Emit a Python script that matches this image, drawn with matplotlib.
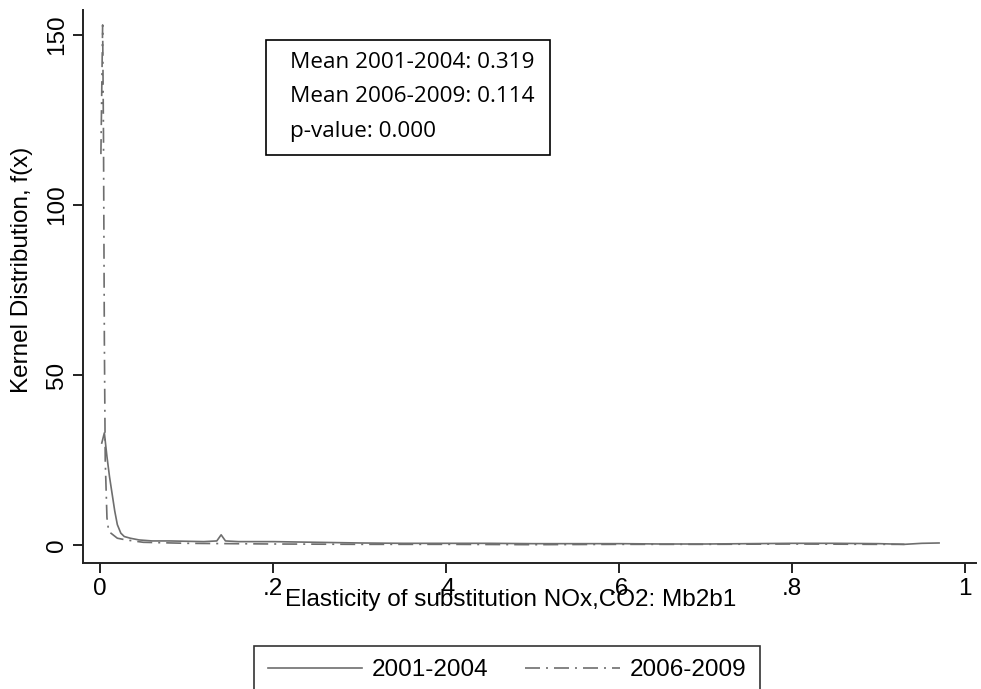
import matplotlib
matplotlib.use("Agg")
import matplotlib.pyplot as plt
from matplotlib.patches import Rectangle

# ---- data ----
x_early = [0.002, 0.005, 0.008, 0.011, 0.014, 0.017, 0.020, 0.024, 0.028, 0.035,
           0.045, 0.06, 0.08, 0.10, 0.12, 0.135, 0.14, 0.145, 0.16, 0.20, 0.25,
           0.30, 0.35, 0.40, 0.45, 0.50, 0.55, 0.60, 0.65, 0.70, 0.75, 0.80,
           0.85, 0.90, 0.93, 0.95, 0.97]
y_early = [30, 33, 26, 20, 15, 10, 6, 3.5, 2.5, 2.0,
           1.5, 1.2, 1.2, 1.1, 1.0, 1.2, 3.0, 1.2, 1.0, 1.0, 0.8,
           0.6, 0.5, 0.5, 0.5, 0.4, 0.4, 0.4, 0.3, 0.3, 0.4, 0.5,
           0.5, 0.4, 0.2, 0.5, 0.6]

x_late = [0.001, 0.003, 0.004, 0.005, 0.006, 0.008, 0.010, 0.015, 0.020, 0.030,
          0.05, 0.10, 0.20, 0.30, 0.40, 0.50, 0.60, 0.70, 0.80, 0.90, 0.93]
y_late = [115, 153, 120, 60, 25, 8, 4, 3, 2, 1.5,
          0.8, 0.5, 0.3, 0.2, 0.2, 0.1, 0.2, 0.2, 0.3, 0.2, 0.2]

labels = ["2001-2004", "2006-2009"]
x_ticks = [0, 0.2, 0.4, 0.6, 0.8, 1.0]
x_ticklabels = ["0", ".2", ".4", ".6", ".8", "1"]
y_ticks = [0, 50, 100, 150]
box_lines = ["Mean 2001-2004: 0.319", "Mean 2006-2009: 0.114", "p-value: 0.000"]

plt.rcParams["font.family"] = ["Liberation Sans", "DejaVu Sans"]

W, H = 981, 689
fs = 17.5
fig = plt.figure(figsize=(W / 100, H / 100), dpi=100)
ax = fig.add_axes([83 / W, 1 - 563 / H, (976 - 83) / W, (563 - 10) / H])

line_color = "#6e6e6e"
ax.plot(x_early, y_early, color=line_color, lw=1.2, ls="-", label=labels[0])
ax.plot(x_late, y_late, color=line_color, lw=1.2, ls=(0, (9, 3.6, 1.2, 3.6)),
        label=labels[1])

ax.set_xlim(-0.0197, 1.0127)
ax.set_ylim(-5.29, 157.4)
ax.set_xticks(x_ticks)
ax.set_xticklabels(x_ticklabels)
ax.set_yticks(y_ticks)
ax.set_yticklabels([str(v) for v in y_ticks], rotation=90, va="center")

for s in ["top", "right"]:
    ax.spines[s].set_visible(False)
for s in ["left", "bottom"]:
    ax.spines[s].set_linewidth(1.4)
    ax.spines[s].set_color("#222222")
ax.tick_params(direction="out", length=7, width=1.4, color="#222222",
               labelsize=fs, pad=4)

ax.set_xlabel("Elasticity of substitution NOx,CO2: Mb2b1", fontsize=fs)
ax.xaxis.set_label_coords((511 - 83) / (976 - 83), -(600 - 563) / (563 - 10))
ax.set_ylabel("Kernel Distribution, f(x)", fontsize=fs)
ax.yaxis.set_label_coords(-(83 - 22) / (976 - 83), (563 - 270) / (563 - 10))
ax.xaxis.label.set_va("center")
ax.yaxis.label.set_va("center")

# text box with summary statistics
fig.patches.append(Rectangle((266 / W, 1 - 155 / H), (550 - 266) / W, (155 - 40) / H,
                             transform=fig.transFigure, fill=False,
                             edgecolor="black", lw=1.2))
for i, line in enumerate(box_lines):
    fig.text(290 / W, 1 - (62 + 34.5 * i) / H, line, fontsize=16.2,
             family=["Open Sans", "DejaVu Sans"], va="center", ha="left")

leg = fig.legend(loc="upper center", bbox_to_anchor=(507 / W, 1 - 646 / H), ncol=2,
                 fontsize=fs, frameon=True, fancybox=False, edgecolor="black",
                 handlelength=3.9, handletextpad=0.4, columnspacing=1.5,
                 borderpad=0.55, borderaxespad=0)
leg.get_frame().set_linewidth(1.2)

fig.savefig("out.png", dpi=100)
